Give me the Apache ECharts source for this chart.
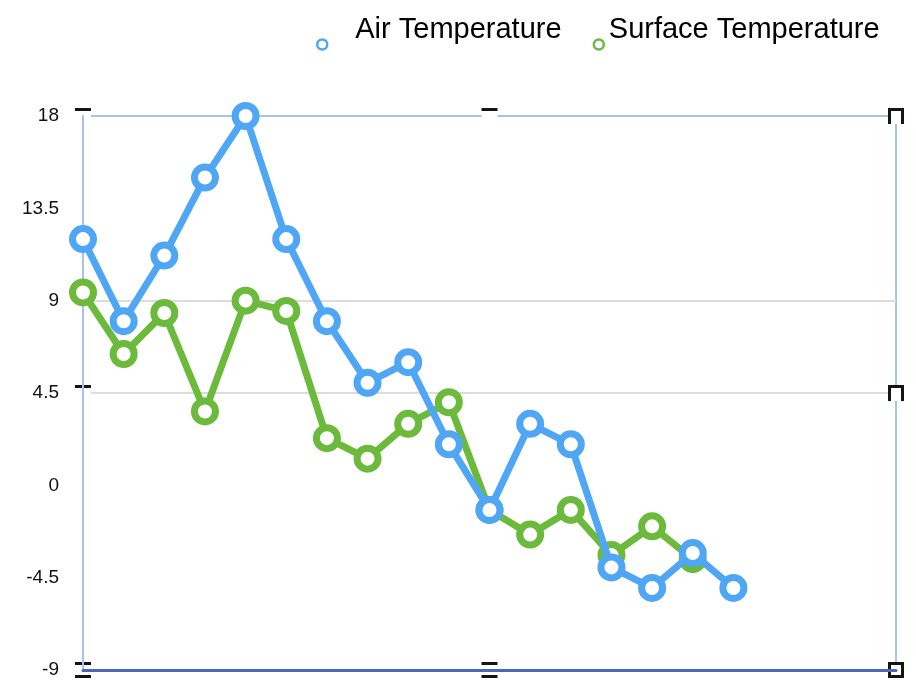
<!DOCTYPE html>
<html>
<head>
<meta charset="utf-8">
<script src="https://cdn.jsdelivr.net/npm/echarts@6/dist/echarts.min.js"></script>
<style>
html,body{margin:0;padding:0;background:#fff;}
#main{width:916px;height:698px;}
</style>
</head>
<body>
<div id="main"></div>
<script>
var categories = ['1','2','3','4','5','6','7','8','9','10','11','12','13','14','15','16','17','18','19','20','21'];
var airTemperature = [12, 8, 11.2, 15, 18, 12, 8, 5, 6, 2, -1.2, 3, 2, -4, -5, -3.3, -5];
var surfaceTemperature = [9.4, 6.4, 8.4, 3.6, 9, 8.5, 2.3, 1.3, 3, 4.05, -1.2, -2.4, -1.2, -3.4, -2, -3.6];
var yTicks = {min: -9, max: 18, interval: 4.5};

var chart = echarts.init(document.getElementById('main'));
var FONT = '"Liberation Sans", Arial, Helvetica, sans-serif';
var BLUE = '#4ea6f5';
var GREEN = '#6bba3c';

chart.setOption({
  animation: false,
  backgroundColor: '#fff',
  legend: {
    left: 316,
    top: 15,
    padding: 0,
    icon: 'circle',
    itemWidth: 10,
    itemHeight: 10,
    itemGap: 31,
    itemStyle: {color: '#fff', borderWidth: 2.5},
    data: [
      {name: 'Air Temperature'},
      {name: 'Surface Temperature'}
    ],
    formatter: function (name) {
      return name === 'Air Temperature' ? '{a|' + name + '}' : '{b|' + name + '}';
    },
    textStyle: {
      fontFamily: FONT, fontSize: 29, color: '#000',
      rich: {
        a: {fontFamily: FONT, fontSize: 29, color: '#000', padding: [0, 0, 30, 23]},
        b: {fontFamily: FONT, fontSize: 29, color: '#000', padding: [0, 0, 30, 0]}
      }
    }
  },
  grid: {
    left: 83, right: 20, top: 116, bottom: 28,
    show: true, borderColor: '#a8c0f8', borderWidth: 2, backgroundColor: 'transparent'
  },
  xAxis: {
    type: 'category',
    data: categories,
    boundaryGap: false,
    axisLine: {onZero: false, lineStyle: {color: '#4a66b4', width: 3}},
    axisTick: {show: false},
    axisLabel: {show: false},
    splitLine: {show: false}
  },
  yAxis: {
    type: 'value',
    min: yTicks.min, max: yTicks.max, interval: yTicks.interval,
    axisLine: {show: true, lineStyle: {color: '#a8c0f8', width: 2}},
    axisTick: {show: false},
    axisLabel: {fontFamily: FONT, fontSize: 19, color: '#111', margin: 24},
    splitLine: {show: true, lineStyle: {color: ['transparent','transparent','transparent','#dcdcdc','#dcdcdc','transparent','transparent'], width: 2}}
  },
  series: [
    {
      name: 'Air Temperature', type: 'line', data: airTemperature, z: 4,
      symbol: 'circle', symbolSize: 21,
      lineStyle: {color: BLUE, width: 7},
      itemStyle: {color: '#fff', borderWidth: 7, borderColor: BLUE}
    },
    {
      name: 'Surface Temperature', type: 'line', data: surfaceTemperature, z: 3,
      symbol: 'circle', symbolSize: 21,
      lineStyle: {color: GREEN, width: 7},
      itemStyle: {color: '#fff', borderWidth: 7, borderColor: GREEN}
    }
  ]
});

// selection handles around the plot area
var rect = chart.getModel().getComponent('grid').coordinateSystem.getRect();
var xs = [rect.x, rect.x + rect.width / 2, rect.x + rect.width];
var ys = [rect.y, rect.y + rect.height / 2, rect.y + rect.height];
// sides drawn: [top, right, bottom, left]
var handleSides = {
  '0,0': [1,0,0,0], '1,0': [1,0,0,0], '2,0': [1,1,0,1],
  '0,1': [1,0,0,0], '2,1': [1,1,0,1],
  '0,2': [1,0,1,0], '1,2': [1,0,1,0], '2,2': [1,1,1,1]
};
var graphics = [];
Object.keys(handleSides).forEach(function (k) {
  var p = k.split(',').map(Number);
  var cx = xs[p[0]], cy = ys[p[1]], h = 8, s = handleSides[k];
  var children = [{type: 'rect', shape: {x: cx - h, y: cy - h, width: 2 * h, height: 2 * h}, style: {fill: '#fff'}}];
  var segs = [
    [cx - h, cy - h + 1.5, cx + h, cy - h + 1.5],
    [cx + h - 1.5, cy - h, cx + h - 1.5, cy + h],
    [cx - h, cy + h - 1.5, cx + h, cy + h - 1.5],
    [cx - h + 1.5, cy - h, cx - h + 1.5, cy + h]
  ];
  s.forEach(function (on, i) {
    if (on) children.push({type: 'line', shape: {x1: segs[i][0], y1: segs[i][1], x2: segs[i][2], y2: segs[i][3]}, style: {stroke: '#151515', lineWidth: 3}});
  });
  graphics.push({type: 'group', z: 10, children: children});
});
chart.setOption({graphic: graphics});
</script>
</body>
</html>
